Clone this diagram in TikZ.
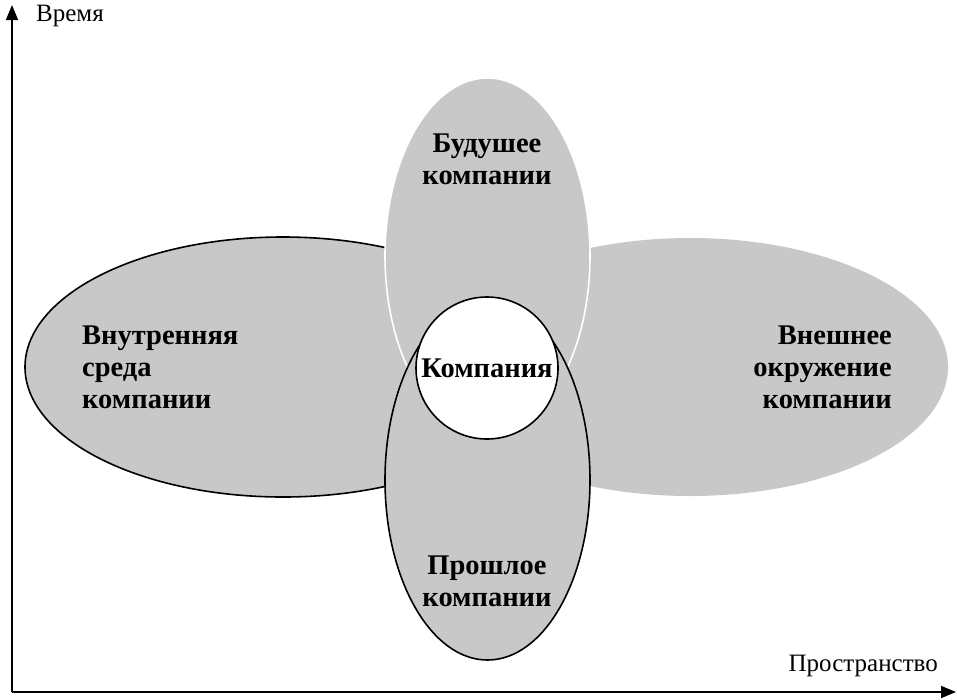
\documentclass[tikz,border=0pt]{standalone}
\usepackage{fontspec}
\setmainfont{Liberation Serif}
\usetikzlibrary{arrows.meta,shapes.geometric}
\definecolor{areagray}{RGB}{200,200,200}

\begin{document}
\begin{tikzpicture}[
    x=1pt,
    y=-1pt,
    area/.style={
        ellipse,
        fill=areagray,
        inner sep=0pt,
        line width=1.6pt
    },
    areatext/.style={
        inner sep=0pt,
        font=\fontsize{28.5}{32}\selectfont\bfseries
    },
    axislabel/.style={
        inner sep=0pt,
        font=\fontsize{25}{28}\selectfont
    },
    axis/.style={-{Triangle[length=15pt,width=12pt]}, line width=1.6pt}
]
\useasboundingbox (0,0) rectangle (957,699);

% areas around the company
\node[area, draw=black, minimum width=516pt, minimum height=260pt] (inner) at (283,367) {};
\node[area, minimum width=516pt, minimum height=258pt] (outer) at (690,367) {};
\node[area, draw=white, minimum width=205pt, minimum height=356pt] (future) at (487.5,256) {};
\node[area, draw=black, minimum width=205pt, minimum height=360pt] (past) at (487.5,480) {};
\node[circle, draw=black, fill=white, line width=1.6pt, inner sep=0pt,
      minimum size=142pt, font=\fontsize{28.5}{32}\selectfont\bfseries] (company) at (487,368) {Компания};

\node[areatext, align=center] (futuretext) at (487,159) {Будушее\\компании};
\node[areatext, align=left, anchor=west] (innertext) at (82,367) {Внутренняя\\среда\\компании};
\node[areatext, align=right, anchor=east] (outertext) at (892,367) {Внешнее\\окружение\\компании};
\node[areatext, align=center] (pasttext) at (487,581) {Прошлое\\компании};

% axes
\coordinate (origin) at (12,692);
\coordinate (timeend) at (12,5);
\coordinate (spaceend) at (956,692);
\draw[axis] (origin) -- (timeend);
\draw[axis] (origin) -- (spaceend);
\node[axislabel, anchor=west] (time) at (36,16) {Время};
\node[axislabel, anchor=east] (space) at (938,666) {Пространство};

\end{tikzpicture}
\end{document}
